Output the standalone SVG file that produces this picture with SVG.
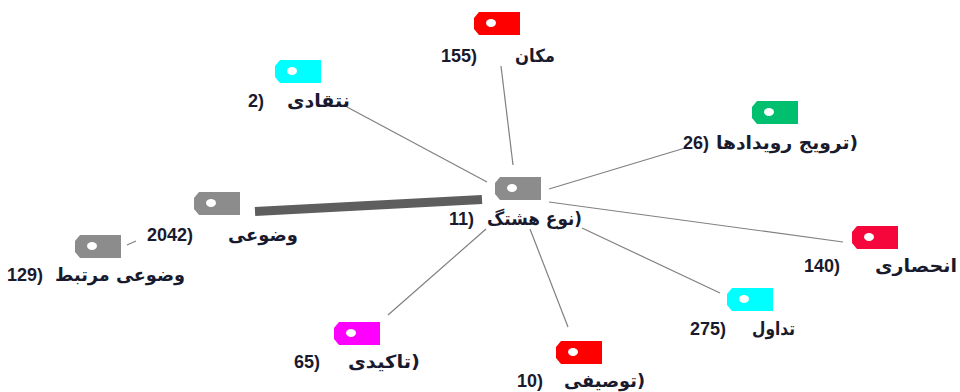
<svg xmlns="http://www.w3.org/2000/svg" width="960" height="392" viewBox="0 0 960 392">
<style>
.bg{fill:#ffffff}
.ln{stroke:#808080;stroke-width:1.2;fill:none}
.thick{stroke:#5e5e5e;stroke-width:9;fill:none}
.hole{fill:#ffffff}
.num{font-family:"Liberation Sans",Arial,sans-serif;font-size:18px;font-weight:bold;fill:#1a1a2e}
.wd{font-family:"DejaVu Sans","Noto Sans",sans-serif;font-size:18px;font-weight:bold;fill:#1a1a2e}
</style>
<defs>
<path id="tag" d="M5,0 H46 V23 H5 L0,17 V6 Z"/>
</defs>
<rect class="bg" x="0" y="0" width="960" height="392"/>
<g id="connectors">
<line class="ln" x1="513" y1="165" x2="501" y2="66"/>
<line class="ln" x1="487" y1="182" x2="347" y2="107"/>
<line class="ln" x1="549" y1="189" x2="685" y2="148"/>
<line class="thick" x1="482" y1="199.5" x2="255" y2="211.5"/>
<line class="ln" x1="136" y1="241" x2="127" y2="245"/>
<line class="ln" x1="549" y1="202" x2="843" y2="242"/>
<line class="ln" x1="582" y1="228" x2="720" y2="293"/>
<line class="ln" x1="530" y1="229" x2="568" y2="327"/>
<line class="ln" x1="486" y1="229" x2="388" y2="315"/>
</g>
<g id="n-center">
<use href="#tag" x="495" y="177" fill="#8c8c8c"/><ellipse class="hole" cx="512" cy="188" rx="5" ry="4"/>
<text class="num" x="449" y="225">11)</text>
<text class="wd" x="487" y="225" textLength="95" lengthAdjust="spacingAndGlyphs">نوع هشتگ)</text>
</g>
<g id="n-makan">
<use href="#tag" x="474" y="12" fill="#ff0000"/><ellipse class="hole" cx="491" cy="23" rx="5" ry="4"/>
<text class="num" x="441" y="62">155)</text>
<text class="wd" x="515" y="62" textLength="40" lengthAdjust="spacingAndGlyphs">مکان</text>
</g>
<g id="n-enteghadi">
<use href="#tag" x="275" y="60" fill="#00ffff"/><ellipse class="hole" cx="292" cy="71" rx="5" ry="4"/>
<text class="num" x="248" y="107">2)</text>
<text class="wd" x="287" y="107" textLength="63" lengthAdjust="spacingAndGlyphs">نتقادی</text>
</g>
<g id="n-tarvij">
<use href="#tag" x="752" y="101" fill="#00c070"/><ellipse class="hole" cx="769" cy="112" rx="5" ry="4"/>
<text class="num" x="683" y="149">26)</text>
<text class="wd" x="716" y="149" textLength="142" lengthAdjust="spacingAndGlyphs">ترویج رویدادها)</text>
</g>
<g id="n-mozooi">
<use href="#tag" x="194" y="192" fill="#8c8c8c"/><ellipse class="hole" cx="211" cy="203" rx="5" ry="4"/>
<text class="num" x="147" y="241">2042)</text>
<text class="wd" x="228" y="241" textLength="70" lengthAdjust="spacingAndGlyphs">وضوعی</text>
</g>
<g id="n-mozooi-mortabet">
<use href="#tag" x="75" y="235" fill="#8c8c8c"/><ellipse class="hole" cx="92" cy="246" rx="5" ry="4"/>
<text class="num" x="7" y="281">129)</text>
<text class="wd" x="55" y="281" textLength="130" lengthAdjust="spacingAndGlyphs">وضوعی مرتبط</text>
</g>
<g id="n-enhesari">
<use href="#tag" x="852" y="226" fill="#f5073c"/><ellipse class="hole" cx="869" cy="237" rx="5" ry="4"/>
<text class="num" x="804" y="272">140)</text>
<text class="wd" x="875" y="272" textLength="82" lengthAdjust="spacingAndGlyphs">انحصاری</text>
</g>
<g id="n-motedavel">
<use href="#tag" x="727" y="288" fill="#00ffff"/><ellipse class="hole" cx="744" cy="299" rx="5" ry="4"/>
<text class="num" x="690" y="335">275)</text>
<text class="wd" x="752" y="335" textLength="43" lengthAdjust="spacingAndGlyphs">تداول</text>
</g>
<g id="n-takidi">
<use href="#tag" x="334" y="322" fill="#ff00ff"/><ellipse class="hole" cx="351" cy="333" rx="5" ry="4"/>
<text class="num" x="294" y="368">65)</text>
<text class="wd" x="348" y="368" textLength="72" lengthAdjust="spacingAndGlyphs">تاکیدی)</text>
</g>
<g id="n-tosifi">
<use href="#tag" x="556" y="341" fill="#ff0000"/><ellipse class="hole" cx="573" cy="352" rx="5" ry="4"/>
<text class="num" x="517" y="387">10)</text>
<text class="wd" x="564" y="387" textLength="81" lengthAdjust="spacingAndGlyphs">توصیفی)</text>
</g>
</svg>
